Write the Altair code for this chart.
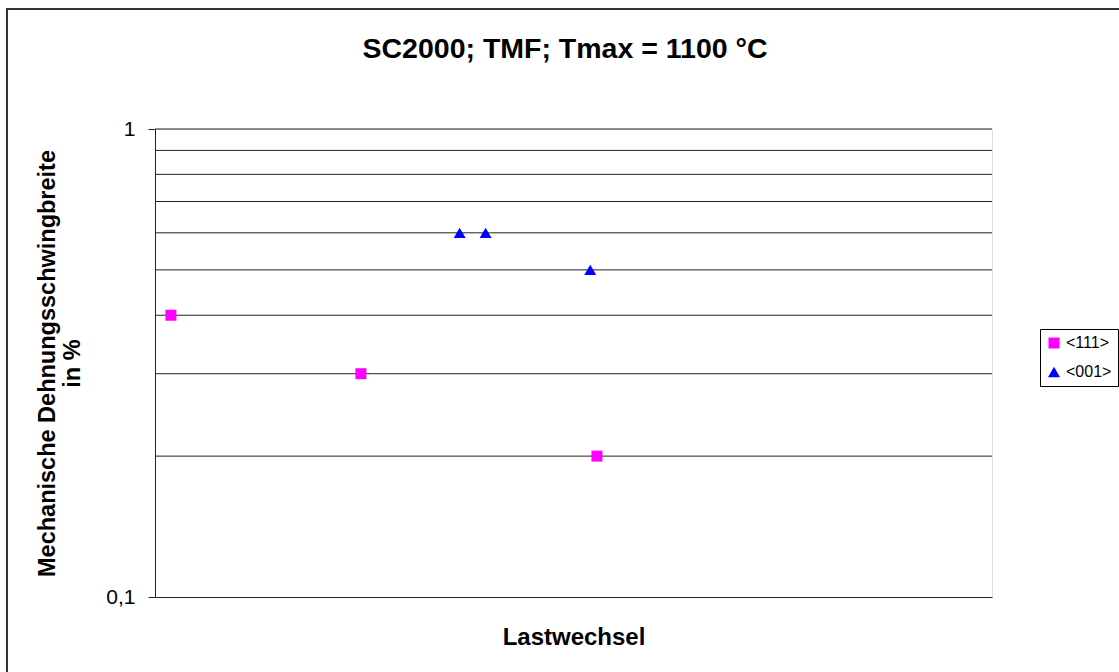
import altair as alt
import pandas as pd

# Data
series = ["<111>", "<111>", "<111>", "<001>", "<001>", "<001>"]
cycles = [19, 246, 528, 364, 395, 520]
strain = [0.4, 0.3, 0.2, 0.6, 0.6, 0.5]
grid_values = [0.2, 0.3, 0.4, 0.5, 0.6, 0.7, 0.8, 0.9, 1.0]
legend_order = ["<111>", "<001>"]
legend_colors = ["#FF00FF", "#0000FF"]
legend_shapes = ["square", "triangle-up"]
marker_sizes = [121, 144]
title_text = ["SC2000; TMF; Tmax = 1100 °C"]

df = pd.DataFrame({"Serie": series, "Lastwechsel": cycles, "Dehnung": strain})
grid_df = pd.DataFrame({"g": grid_values})
frame_df = pd.DataFrame({"a": [0]})
title_df = pd.DataFrame({"t": title_text})

FONT = "Liberation Sans"

yscale = alt.Scale(type="log", domain=[0.1, 1], nice=False)
xscale = alt.Scale(domain=[0, 1000], nice=False)

grid = alt.Chart(grid_df).mark_rule(color="#222222", strokeWidth=1).encode(
    y=alt.Y("g:Q", scale=yscale)
)

points = alt.Chart(df).mark_point(filled=True, opacity=1).encode(
    x=alt.X("Lastwechsel:Q", scale=xscale,
            axis=alt.Axis(title="Lastwechsel", labels=False, ticks=False, grid=False,
                          domainColor="#222222", titleFont=FONT, titleFontSize=24,
                          titleFontWeight="bold", titlePadding=28, titleColor="black")),
    y=alt.Y("Dehnung:Q", scale=yscale,
            axis=alt.Axis(title=["Mechanische Dehnungsschwingbreite", "in %"],
                          values=[0.1, 1], grid=False, tickSize=7, tickColor="#222222",
                          domainColor="#222222",
                          labelExpr="datum.value < 0.5 ? '0,1' : '1'",
                          labelFont=FONT, labelFontSize=21, labelColor="black", labelPadding=13,
                          titleFont=FONT, titleFontSize=23.5, titleFontWeight="bold",
                          titleColor="black", titlePadding=21, titleLineHeight=25)),
    color=alt.Color("Serie:N", scale=alt.Scale(domain=legend_order, range=legend_colors),
                    legend=alt.Legend(title=None, orient="none", legendX=885, legendY=200,
                                      strokeColor="black", padding=6, labelFont=FONT,
                                      labelFontSize=16, labelColor="black", symbolSize=55,
                                      rowPadding=13, labelOffset=4, fillColor="white")),
    shape=alt.Shape("Serie:N", scale=alt.Scale(domain=legend_order, range=legend_shapes),
                    legend=None),
    size=alt.Size("Serie:N", scale=alt.Scale(domain=legend_order, range=marker_sizes),
                  legend=None),
)

frame = alt.Chart(frame_df).mark_rect(fillOpacity=0, stroke="#333333", strokeWidth=2).encode(
    x=alt.value(-148), x2=alt.value(990), y=alt.value(-120), y2=alt.value(560)
)

title = alt.Chart(title_df).mark_text(
    font=FONT, fontSize=28.5, fontWeight="bold", color="black",
    align="center", baseline="alphabetic"
).encode(text="t:N", x=alt.value(410), y=alt.value(-71))

chart = alt.layer(frame, grid, points, title).properties(
    width=837, height=468,
    padding={"left": 155, "top": 129, "right": 127, "bottom": 75},
    autosize=alt.AutoSizeParams(type="none"),
).configure_view(stroke="#808080", strokeWidth=1.5).configure(background="white")

chart.save("out.html", embed_options={"renderer": "svg", "actions": False})
